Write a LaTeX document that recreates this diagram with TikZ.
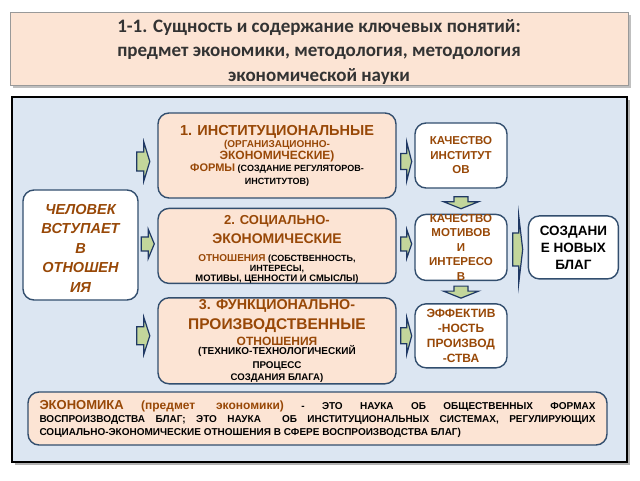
\documentclass[tikz,border=0pt]{standalone}
\usepackage{fontspec}
\setmainfont{Liberation Sans}
\newfontfamily\titlefont{Carlito}
\usetikzlibrary{positioning,calc}

\definecolor{peach}{RGB}{252,228,212}
\definecolor{panelblue}{RGB}{220,230,242}
\definecolor{boxline}{RGB}{50,78,110}
\definecolor{txtbrown}{RGB}{152,72,7}
\definecolor{arrowgreen}{RGB}{195,214,155}
\definecolor{arrowline}{RGB}{31,56,100}

\newcommand\brn[2]{{\color{txtbrown}\fontsize{#1}{#1}\selectfont #2}}
\newcommand\blk[2]{{\color{black}\fontsize{#1}{#1}\selectfont #2}}
\newcommand\noskip{\lineskiplimit=-100pt\lineskip=0pt}
\newcommand\fs[2]{\fontsize{#1}{#2}\selectfont}
\newcommand\lift[1]{\rule{0pt}{#1}}

\tikzset{
  titlebox/.style={draw=black!40, line width=0.6pt, fill=peach, align=center,
    minimum width=618pt, minimum height=73pt, inner sep=0pt,
    font=\titlefont\bfseries\noskip\fs{19}{24.5}, text=black!80},
  peachbox/.style={draw=boxline, line width=1.4pt, fill=peach, rounded corners=11pt,
    align=center, inner xsep=2pt, inner ysep=0pt, minimum width=238pt, text=txtbrown},
  whitebox/.style={draw=boxline, line width=1.4pt, fill=white, rounded corners=11pt,
    align=center, inner xsep=2pt, inner ysep=0pt, minimum width=92pt, text=txtbrown},
  pics/blockarrow/.style args={#1/#2/#3/#4}{code={
    \filldraw[fill=arrowgreen, draw=arrowline, line width=1.2pt, line join=miter, miter limit=30]
      (-#1/2,-#2) -- (#1/2-#4,-#2) -- (#1/2-#4,-#3) -- (#1/2,0) --
      (#1/2-#4,#3) -- (#1/2-#4,#2) -- (-#1/2,#2) -- cycle;
  }}
}

\begin{document}
\begin{tikzpicture}[x=1pt,y=-1pt]
    \useasboundingbox (0,0) rectangle (640,480);

    % heading
    \fill[black!25] (13,15) rectangle (631,88);
    \node[titlebox] (title) at (319,48.5) {\lift{19pt}1-1. Сущность и содержание ключевых понятий:\\
        предмет экономики, методология, методология\\
        экономической науки};

    % panel
    \fill[black!30] (15,100) rectangle (630,465);
    \draw[line width=2.2pt, fill=panelblue] (12,97) rectangle (627,462);

    \node[whitebox, minimum width=115pt, minimum height=110pt,
        font=\bfseries\itshape\noskip\fs{14.5}{19.5}] (human) at (80.5,245)
        {\lift{16.4pt}ЧЕЛОВЕК\\ВСТУПАЕТ\\В\\ОТНОШЕН\\ИЯ};

    \node[peachbox, minimum height=85pt, font=\bfseries\noskip\fs{9}{12.2}] (inst) at (277,155.5) {
        \brn{14.5}{1. ИНСТИТУЦИОНАЛЬНЫЕ}\\
        \brn{10}{(ОРГАНИЗАЦИОННО-}\\
        \brn{12}{ЭКОНОМИЧЕСКИЕ)}\\
        \brn{11}{ФОРМЫ} \blk{9}{(СОЗДАНИЕ РЕГУЛЯТОРОВ-}\\
        \blk{9}{ИНСТИТУТОВ)}};
    \node[peachbox, minimum height=75pt, below=9pt of inst, font=\bfseries\noskip\fs{9}{10}] (socio) {
        \lift{16.3pt}\brn{13}{2. СОЦИАЛЬНО-}\\[9pt]
        \brn{14}{ЭКОНОМИЧЕСКИЕ}\\[7.3pt]
        \brn{10}{ОТНОШЕНИЯ} \blk{9}{(СОБСТВЕННОСТЬ,}\\
        \blk{9}{ИНТЕРЕСЫ,}\\
        \blk{9.4}{МОТИВЫ, ЦЕННОСТИ И СМЫСЛЫ)}};
    \node[peachbox, minimum height=86pt, below=13pt of socio, font=\bfseries\noskip\fs{9}{12}] (func) {
        \brn{14.3}{3. ФУНКЦИОНАЛЬНО-}\\[8pt]
        \brn{15.5}{ПРОИЗВОДСТВЕННЫЕ}\\[4pt]
        \brn{12}{ОТНОШЕНИЯ}\\[-3pt]
        \blk{10}{(ТЕХНИКО-ТЕХНОЛОГИЧЕСКИЙ}\\[2pt]
        \blk{9.8}{ПРОЦЕСС}\\
        \blk{9.6}{СОЗДАНИЯ БЛАГА)}};

    \node[whitebox, minimum height=65pt, font=\bfseries\noskip\fs{11.5}{14.5}] (qinst) at (461,155.5)
        {КАЧЕСТВО\\ИНСТИТУТ\\ОВ};
    \node[whitebox, minimum height=65pt, below=25pt of qinst, font=\bfseries\noskip\fs{11.5}{14.5}] (qmot)
        {КАЧЕСТВО\\МОТИВОВ\\И\\ИНТЕРЕСО\\В};
    \node[whitebox, minimum height=64pt, below=22pt of qmot, font=\bfseries\noskip\fs{12}{15}] (eff)
        {ЭФФЕКТИВ\\-НОСТЬ\\ПРОИЗВОД\\-СТВА};
    \node[whitebox, minimum width=90pt, minimum height=63pt, right=20pt of qmot, text=black,
        font=\bfseries\noskip\fs{13.5}{17}] (newg) {СОЗДАНИ\\Е НОВЫХ\\БЛАГ};

    \node[peachbox, minimum width=579pt, minimum height=53pt, text width=556pt, align=justify,
        text=black, font=\bfseries\noskip\fs{10}{13}] (econ) at (317.5,418.5) {
        \brn{13}{ЭКОНОМИКА} \brn{12}{(предмет экономики)} - ЭТО НАУКА ОБ ОБЩЕСТВЕННЫХ ФОРМАХ\linebreak
        ВОСПРОИЗВОДСТВА БЛАГ; ЭТО НАУКА\ \ ОБ ИНСТИТУЦИОНАЛЬНЫХ СИСТЕМАХ, РЕГУЛИРУЮЩИХ\linebreak
        СОЦИАЛЬНО-ЭКОНОМИЧЕСКИЕ ОТНОШЕНИЯ В СФЕРЕ ВОСПРОИЗВОДСТВА БЛАГ)};

    % block arrows
    \pic at ($(inst.west)+(-14,6)$) {blockarrow=13/9.5/19.5/6};
    \pic at ($(socio.west)+(-9.5,-2)$) {blockarrow=13/7/14.5/6};
    \pic at ($(func.west)+(-14,-5)$) {blockarrow=13/9/18.5/6};
    \pic at ($(inst.east)+(9.5,6)$) {blockarrow=11/8/19.5/5};
    \pic at ($(socio.east)+(9.5,-2)$) {blockarrow=11/7/14.5/5};
    \pic at ($(func.east)+(9.5,-5)$) {blockarrow=11/8/18.5/5};
    \pic[rotate=-90] at ($(qinst.south)!0.5!(qmot.north)+(0,1.5)$) {blockarrow=12/7/17.5/7};
    \pic[rotate=-90] at ($(qmot.south)!0.5!(eff.north)$) {blockarrow=12/7/17.5/7};
    \pic at ($(qmot.east)!0.5!(newg.west)+(0,2)$) {blockarrow=10/16.5/34/4};
\end{tikzpicture}
\end{document}
